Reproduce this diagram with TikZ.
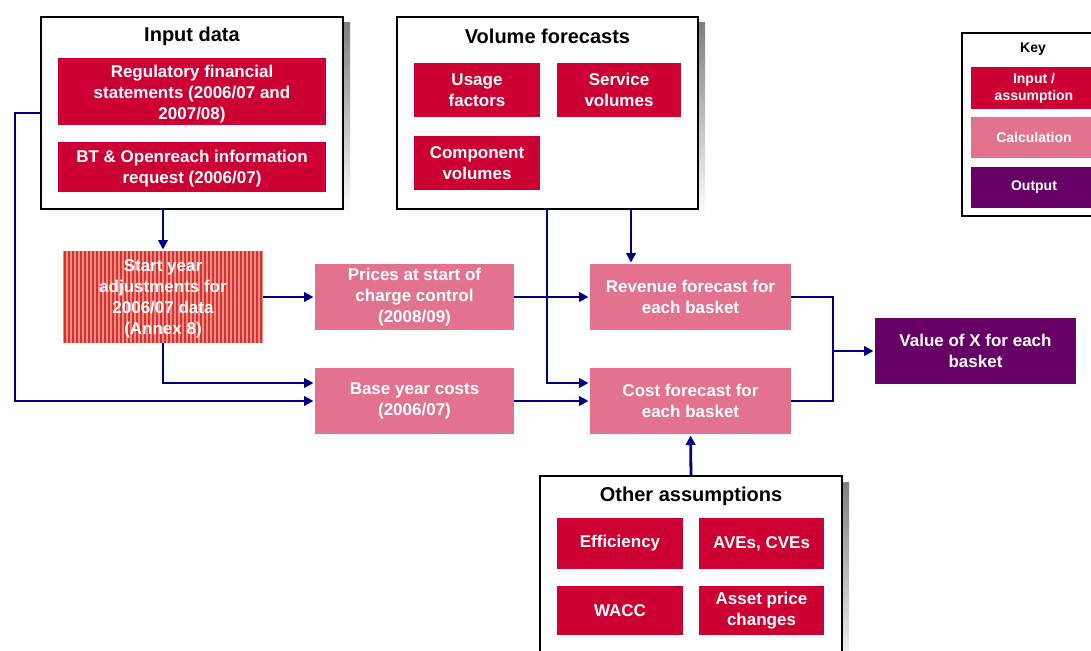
\documentclass[tikz,border=0pt]{standalone}
\usepackage{fontspec}
\setmainfont{Liberation Sans}
\usetikzlibrary{arrows.meta}
\definecolor{inred}{RGB}{204,0,51}
\definecolor{calcpink}{RGB}{226,114,142}
\definecolor{outpurple}{RGB}{102,0,102}
\definecolor{flow}{RGB}{0,0,128}
\definecolor{shade}{RGB}{140,140,140}
\definecolor{stripe}{RGB}{214,52,30}
\definecolor{stripebg}{RGB}{238,140,150}
\tikzset{
  x=1pt, y=-1pt,
  every node/.style={inner sep=0pt, outer sep=0pt, align=center},
  group/.style={draw=black, line width=1.8pt, fill=white},
  grouptitle/.style={font=\fontsize{20}{24}\selectfont\bfseries, text=black},
  bx/.style={text=white, font=\fontsize{17}{21}\selectfont\bfseries},
  inbox/.style={bx, fill=inred},
  calcbox/.style={bx, fill=calcpink},
  outbox/.style={bx, fill=outpurple},
  keytxt/.style={text=white, font=\fontsize{14}{17}\selectfont\bfseries},
  arr/.style={draw=flow, line width=2.8pt, shorten >=1.5pt,
    -{Triangle[length=9.5pt,width=9.5pt]}},
  ln/.style={draw=flow, line width=2.8pt},
}
\newcommand{\groupbox}[5]{% name, cx, cy, w, h
  \fill[shade] (#2+6-#4/2, #3+6-#5/2) rectangle (#2+7+#4/2, #3+7+#5/2);
  \node[group, minimum width=#4pt, minimum height=#5pt] (#1) at (#2,#3) {};
}
\begin{document}
\begin{tikzpicture}
\clip (0,0) rectangle (1091,650);
\fill[white] (0,0) rectangle (1091,650);

% ---- Input data group ----
\groupbox{input}{192}{113}{302}{192}
\node[grouptitle] at (192,36) {Input data};
\node[inbox, minimum width=268pt, minimum height=67pt] (rfs) at (192,91.5) {};
\node[bx] at (192,94) {Regulatory financial\\statements (2006/07 and\\2007/08)};
\node[inbox, minimum width=268pt, minimum height=50pt] (btreq) at (192,167) {};
\node[bx] at (192,168.5) {BT \& Openreach information\\request (2006/07)};

% ---- Volume forecasts group ----
\groupbox{vol}{547.5}{113}{301}{192}
\node[grouptitle] at (547.5,36) {Volume forecasts};
\node[inbox, minimum width=126pt, minimum height=54pt] (usage) at (477,90) {Usage\\factors};
\node[inbox, minimum width=124pt, minimum height=54pt] (service) at (619,90) {Service\\volumes};
\node[inbox, minimum width=126pt, minimum height=54pt] (component) at (477,163) {Component\\volumes};

% ---- Key ----
\groupbox{key}{1034}{124.5}{144}{183}
\node[font=\fontsize{14}{16}\selectfont\bfseries] at (1033,49) {Key};
\node[keytxt, fill=inred, minimum width=126pt, minimum height=42pt] (kin) at (1034,88) {Input /\\assumption};
\node[keytxt, fill=calcpink, minimum width=126pt, minimum height=41pt] (kcalc) at (1034,137.5) {Calculation};
\node[keytxt, fill=outpurple, minimum width=126pt, minimum height=41pt] (kout) at (1034,187.5) {Output};

% ---- Start year adjustments (striped) ----
\fill[stripebg] (63,251) rectangle (263,343);
\foreach \s in {64,68,...,262} {
  \fill[stripe] (\s,251) rectangle (\s+2.2,343);
}
\node[minimum width=200pt, minimum height=92pt] (start) at (163,297) {};
\node[bx] at (163,298.5) {Start year\\adjustments for\\2006/07 data\\(Annex 8)};

% ---- Calculation boxes ----
\node[calcbox, minimum width=199pt, minimum height=66pt] (prices) at (414.5,297)
  {Prices at start of\\charge control\\(2008/09)};
\node[calcbox, minimum width=199pt, minimum height=66pt] (base) at (414.5,401)
  {Base year costs\\(2006/07)};
\node[calcbox, minimum width=201pt, minimum height=66pt] (revenue) at (690.5,297)
  {Revenue forecast for\\each basket};
\node[calcbox, minimum width=201pt, minimum height=66pt] (cost) at (690.5,401)
  {Cost forecast for\\each basket};
\node[outbox, minimum width=201pt, minimum height=66pt] (valx) at (975.5,351)
  {Value of X for each\\basket};

% ---- Other assumptions group ----
\groupbox{other}{691}{573}{302}{194}
\node[grouptitle] at (691,496) {Other assumptions};
\node[inbox, minimum width=126pt, minimum height=51pt] (eff) at (620,543.5) {Efficiency};
\node[inbox, minimum width=125pt, minimum height=51pt] (aves) at (761.5,543.5) {AVEs, CVEs};
\node[inbox, minimum width=126pt, minimum height=49pt] (wacc) at (620,610.5) {WACC};
\node[inbox, minimum width=125pt, minimum height=49pt] (asset) at (761.5,610.5) {Asset price\\changes};

% ---- Connectors ----
\coordinate (inleft) at (15,113);
\coordinate (volA) at (547,209);
\coordinate (join) at (833,351);
\draw[arr] (start.north |- input.south) -- (start.north);
\draw[arr] (input.west) -- (inleft) |- (base.west);
\draw[arr] (start.south) |- ([yshift=18pt]base.west);
\draw[arr] (start.east) -- (prices.west);
\draw[arr] (prices.east) -- (revenue.west);
\draw[arr] (volA) |- ([yshift=18pt]cost.west);
\draw[arr] ([xshift=-59.5pt]revenue.north |- vol.south) -- ([xshift=-59.5pt]revenue.north);
\draw[arr] (base.east) -- (cost.west);
\draw[ln] (revenue.east) -| (join);
\draw[ln] (cost.east) -| (join);
\draw[arr] (join) -- (valx.west);
\draw[arr] (other.north) -- (cost.south);
\end{tikzpicture}
\end{document}
